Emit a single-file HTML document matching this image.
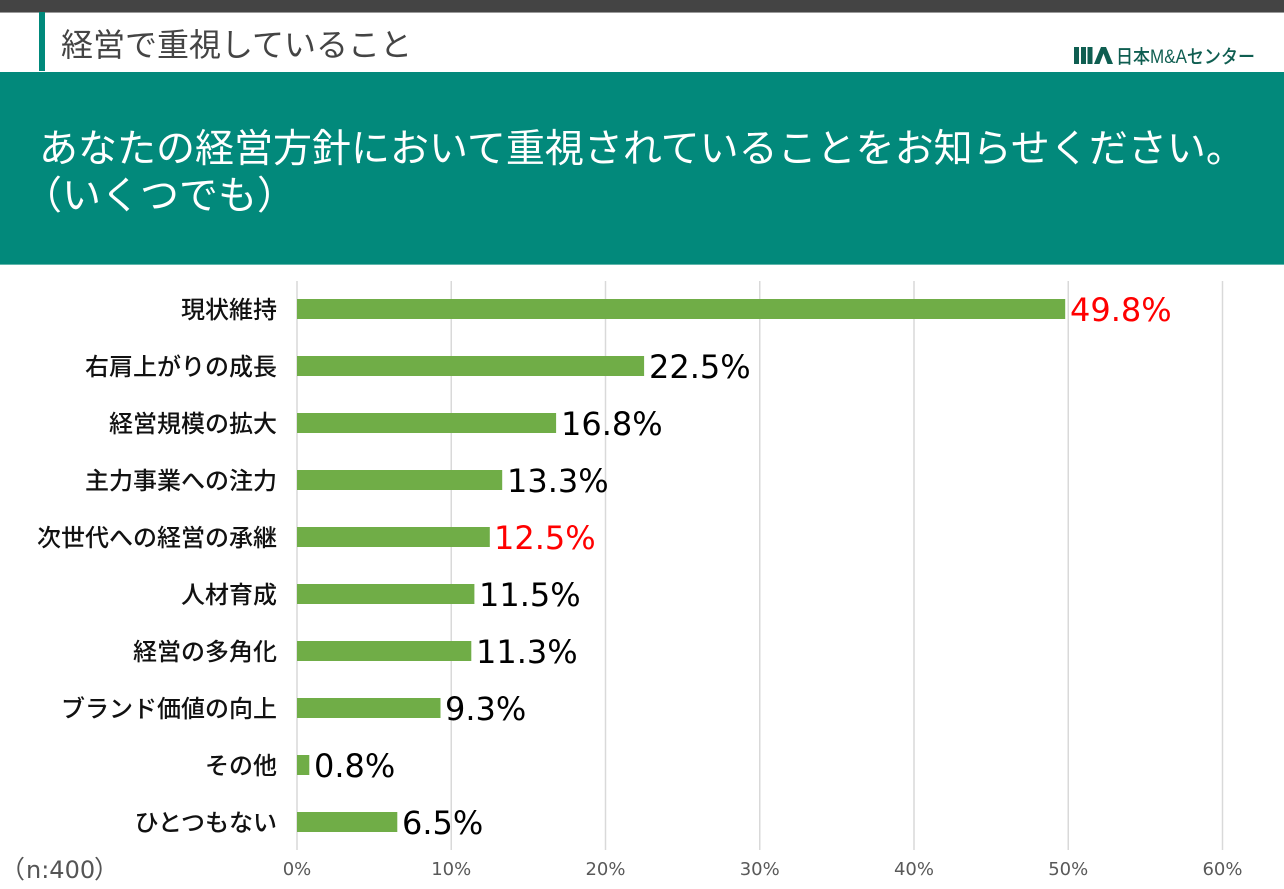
<!DOCTYPE html>
<html><head><meta charset="utf-8"><style>
html,body{margin:0;padding:0;background:#fff;}
svg{display:block;}
.jp{font-family:"Liberation Sans","Noto Sans CJK JP",sans-serif;}
.num{font-family:"DejaVu Sans","Liberation Sans",sans-serif;}
</style></head><body>
<svg width="1284" height="889" viewBox="0 0 1284 889" xmlns="http://www.w3.org/2000/svg">
<rect x="0" y="0" width="1284" height="889" fill="#ffffff"/>
<rect x="0" y="0" width="1284" height="12" fill="#444444"/>
<rect x="0" y="12" width="1284" height="1" fill="#9a9a9a"/>
<rect x="39" y="12" width="6" height="59" fill="#00897b"/>
<text class="jp" x="61" y="56" font-size="32" fill="#444444">経営で重視していること</text>
<!-- logo -->
<g fill="#0f5e51">
<rect x="1074" y="47" width="5" height="17"/>
<rect x="1081" y="47" width="5" height="17"/>
<rect x="1087.5" y="47" width="5" height="17"/>
<polygon points="1094,64 1101,47 1106,47 1113,64 1107.5,64 1103.5,53.5 1099.5,64"/>
<text class="jp" x="1116" y="63" font-size="19" font-weight="500" textLength="139" lengthAdjust="spacingAndGlyphs">日本M&amp;Aセンター</text>
</g>
<!-- banner -->
<rect x="0" y="72" width="1284" height="193" fill="#02897b"/>
<rect x="0" y="264" width="1284" height="1" fill="#5fb6ab"/>
<text class="jp" x="39" y="162" font-size="39" fill="#ffffff">あなたの経営方針において重視されていることをお知らせください。</text>
<text class="jp" x="23" y="209" font-size="39" fill="#ffffff">（いくつでも）</text>
<!-- gridlines -->
<g stroke="#d9d9d9" stroke-width="1.5">
<line x1="297" y1="281" x2="297" y2="850"/>
<line x1="451.25" y1="281" x2="451.25" y2="850"/>
<line x1="605.5" y1="281" x2="605.5" y2="850"/>
<line x1="759.75" y1="281" x2="759.75" y2="850"/>
<line x1="914" y1="281" x2="914" y2="850"/>
<line x1="1068.25" y1="281" x2="1068.25" y2="850"/>
<line x1="1222.5" y1="281" x2="1222.5" y2="850"/>
</g>
<!-- tick labels -->
<g class="num" font-size="18" fill="#595959" text-anchor="middle">
<text x="297" y="875">0%</text>
<text x="451.25" y="875">10%</text>
<text x="605.5" y="875">20%</text>
<text x="759.75" y="875">30%</text>
<text x="914" y="875">40%</text>
<text x="1068.25" y="875">50%</text>
<text x="1222.5" y="875">60%</text>
</g>
<text class="jp" x="0" y="878" font-size="25" fill="#555555">（</text>
<text class="num" x="26" y="878" font-size="24" fill="#555555">n:400</text>
<text class="jp" x="94" y="878" font-size="25" fill="#555555">）</text>
<!-- bars -->
<g fill="#70ad47">
<rect x="297" y="299" width="768.2" height="20"/>
<rect x="297" y="356" width="347.1" height="20"/>
<rect x="297" y="413" width="259.1" height="20"/>
<rect x="297" y="470" width="205.2" height="20"/>
<rect x="297" y="527" width="192.8" height="20"/>
<rect x="297" y="584" width="177.4" height="20"/>
<rect x="297" y="641" width="174.3" height="20"/>
<rect x="297" y="698" width="143.5" height="20"/>
<rect x="297" y="755" width="12.3" height="20"/>
<rect x="297" y="812" width="100.3" height="20"/>
</g>
<!-- category labels -->
<g class="jp" font-size="24" fill="#111111" text-anchor="end" font-weight="500">
<text x="277" y="318">現状維持</text>
<text x="277" y="375">右肩上がりの成長</text>
<text x="277" y="432">経営規模の拡大</text>
<text x="277" y="489">主力事業への注力</text>
<text x="277" y="546">次世代への経営の承継</text>
<text x="277" y="603">人材育成</text>
<text x="277" y="660">経営の多角化</text>
<text x="277" y="717">ブランド価値の向上</text>
<text x="277" y="774">その他</text>
<text x="277" y="831">ひとつもない</text>
</g>
<!-- value labels -->
<g class="num" font-size="32" fill="#000000">
<text x="1070" y="321" fill="#ff0000">49.8%</text>
<text x="649" y="378">22.5%</text>
<text x="561" y="435">16.8%</text>
<text x="507" y="492">13.3%</text>
<text x="494" y="549" fill="#ff0000">12.5%</text>
<text x="479" y="606">11.5%</text>
<text x="476" y="663">11.3%</text>
<text x="445" y="720">9.3%</text>
<text x="314" y="777">0.8%</text>
<text x="402" y="834">6.5%</text>
</g>
</svg>
</body></html>
